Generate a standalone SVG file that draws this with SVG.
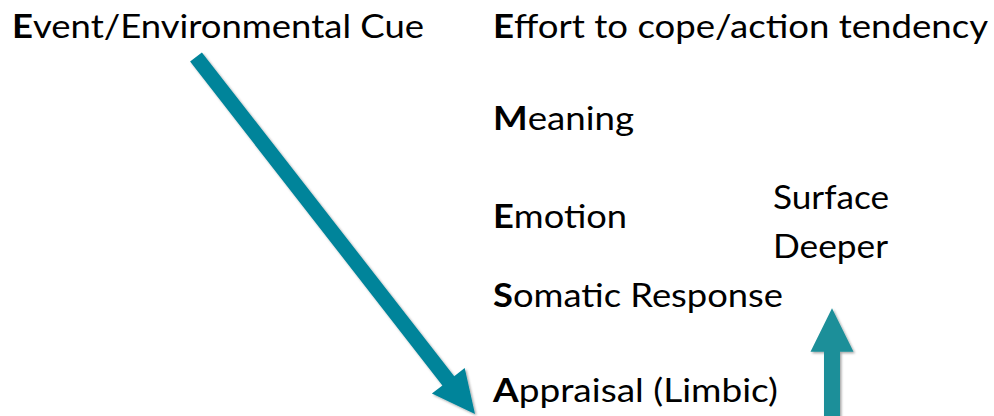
<svg xmlns="http://www.w3.org/2000/svg" width="994" height="416" viewBox="0 0 994 416">
<style>
  text { font-family: Lato, "Open Sans", "Liberation Sans", sans-serif; font-size: 33px; fill: #000; }
  .b { font-weight: bold; }
</style>
<defs>
  <filter id="sh" x="-20%" y="-20%" width="140%" height="140%">
    <feDropShadow dx="1.5" dy="1.5" stdDeviation="1.2" flood-color="#000" flood-opacity="0.35"/>
  </filter>
</defs>
<rect width="994" height="416" fill="#fff"/>
<g id="connectors">
  <polygon filter="url(#sh)" fill="#04849A" points="190.1,61.6 201.9,52.4 454.2,376.2 464.7,368.0 475,414 431.9,393.6 442.4,385.4"/>
  <polygon filter="url(#sh)" fill="#1E8F99" points="832,308.3 853.5,351.7 840,351.7 840,420 824,420 824,351.7 810.5,351.7"/>
</g>
<g id="event"><text x="12" y="38" textLength="412" lengthAdjust="spacingAndGlyphs"><tspan class="b">E</tspan>vent/Environmental Cue</text></g>
<g id="effort"><text x="493" y="38" textLength="495" lengthAdjust="spacingAndGlyphs"><tspan class="b">E</tspan>ffort to cope/action tendency</text></g>
<g id="meaning"><text x="493" y="130" textLength="141" lengthAdjust="spacingAndGlyphs"><tspan class="b">M</tspan>eaning</text></g>
<g id="emotion"><text x="493" y="228" textLength="134" lengthAdjust="spacingAndGlyphs"><tspan class="b">E</tspan>motion</text></g>
<g id="surface"><text x="773" y="209" textLength="116" lengthAdjust="spacingAndGlyphs">Surface</text></g>
<g id="deeper"><text x="773" y="258" textLength="115" lengthAdjust="spacingAndGlyphs">Deeper</text></g>
<g id="somatic"><text x="493" y="306.5" textLength="290" lengthAdjust="spacingAndGlyphs"><tspan class="b">S</tspan>omatic Response</text></g>
<g id="appraisal"><text x="493" y="402" textLength="285" lengthAdjust="spacingAndGlyphs"><tspan class="b">A</tspan>ppraisal (Limbic)</text></g>
</svg>
